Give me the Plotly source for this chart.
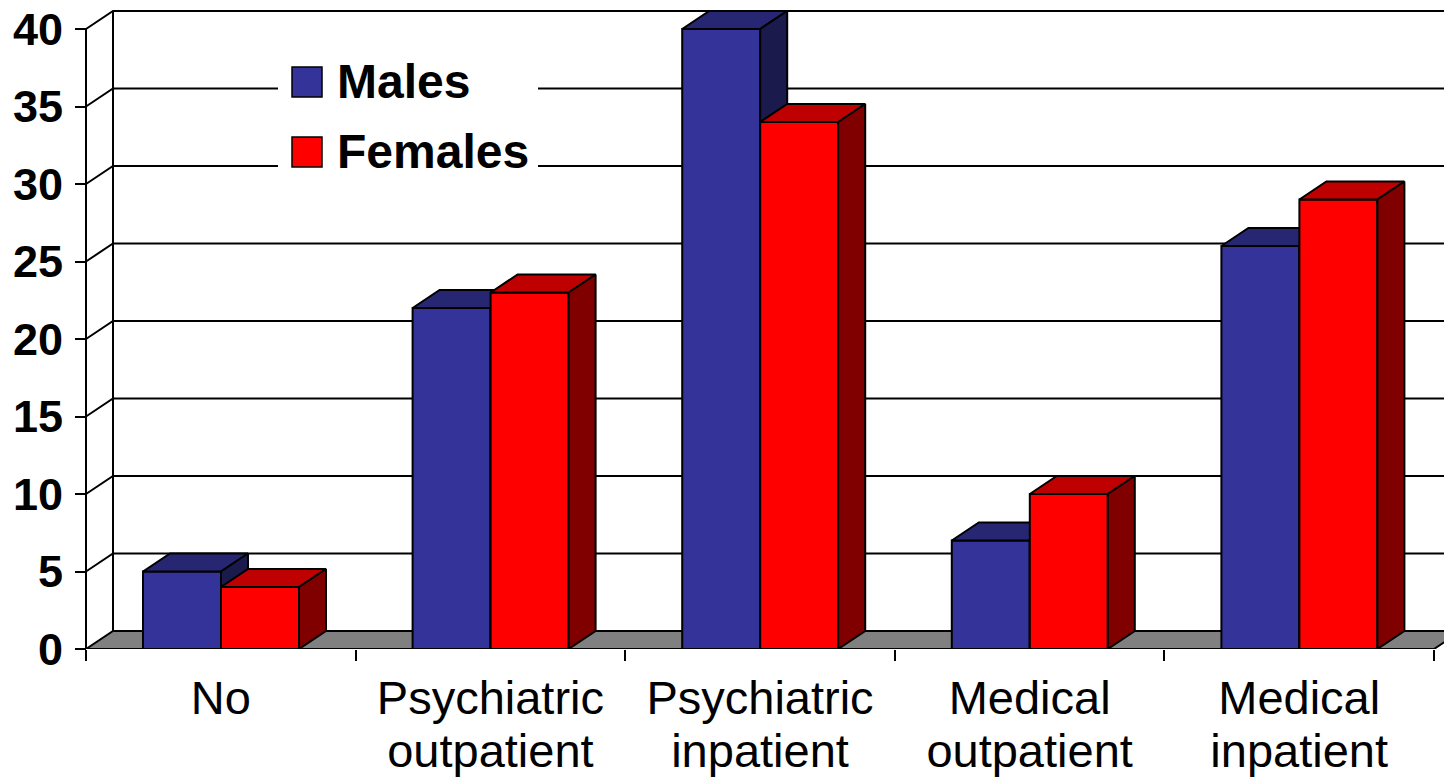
import plotly.graph_objects as go

# ---- data ----
categories = ["No", "Psychiatric<br>outpatient", "Psychiatric<br>inpatient",
              "Medical<br>outpatient", "Medical<br>inpatient"]
males = [5, 22, 40, 7, 26]
females = [4, 23, 34, 10, 29]
y_ticks = [0, 5, 10, 15, 20, 25, 30, 35, 40]

# ---- geometry (pseudo-3D column chart) ----
W, H = 1444, 784
PLOT_H = 649                    # pixel height of plotting area
PX_PER_CAT = 269.6
PX_PER_UNIT = 15.5
AXIS_PX = 86                    # pixel x of front value axis
X_MIN = -AXIS_PX / PX_PER_CAT
X_MAX = (W - AXIS_PX) / PX_PER_CAT
Y_MAX = PLOT_H / PX_PER_UNIT
DX = 27 / PX_PER_CAT            # depth offset in category units
DY = 18 / PX_PER_UNIT           # depth offset in value units
BAR_W = 78 / PX_PER_CAT
BAR_START = 57 / PX_PER_CAT     # first bar offset within a category

MALE = dict(front="#333399", top="#262673", side="#1a1a4d")
FEMALE = dict(front="#FF0000", top="#BF0000", side="#800000")
EDGE = "black"
FONT = "Liberation Sans, Arial"

fig = go.Figure()

def poly_trace(polys, color, width=2):
    xs, ys = [], []
    for px, py in polys:
        xs += list(px) + [px[0], None]
        ys += list(py) + [py[0], None]
    fig.add_trace(go.Scatter(x=xs, y=ys, mode="lines", fill="toself",
                             fillcolor=color, line=dict(color=EDGE, width=width),
                             hoverinfo="skip", showlegend=False))

def line_trace(xs, ys, width=2):
    fig.add_trace(go.Scatter(x=xs, y=ys, mode="lines",
                             line=dict(color=EDGE, width=width),
                             hoverinfo="skip", showlegend=False))

# back-wall and side-wall gridlines
gx, gy = [], []
for v in y_ticks[1:]:
    gx += [0, DX, X_MAX + 1, None]
    gy += [v, v + DY, v + DY, None]
line_trace(gx, gy)
# back wall vertical edge and front axis line
line_trace([DX, DX], [DY, y_ticks[-1] + DY])
line_trace([0, 0], [0, y_ticks[-1]])

# floor
n = len(categories)
poly_trace([([0, n, n + DX, DX], [0, 0, DY, DY])], "#808080")

def bar_faces(vals, offset):
    fronts, tops, sides = [], [], []
    for i, v in enumerate(vals):
        x0 = i + offset
        x1 = x0 + BAR_W
        fronts.append(([x0, x1, x1, x0], [0, 0, v, v]))
        tops.append(([x0, x1, x1 + DX, x0 + DX], [v, v, v + DY, v + DY]))
        sides.append(([x1, x1 + DX, x1 + DX, x1], [0, DY, v + DY, v]))
    return fronts, tops, sides

for vals, off, col in [(males, BAR_START, MALE), (females, BAR_START + BAR_W, FEMALE)]:
    fr, tp, sd = bar_faces(vals, off)
    poly_trace(fr, col["front"])
    poly_trace(tp, col["top"])
    poly_trace(sd, col["side"])

# ---- legend (drawn box with swatches) ----
def px_x(p):
    return p / W
def px_y(p):
    return 1 - p / PLOT_H

shapes = [dict(type="rect", xref="paper", yref="paper", layer="above",
               x0=px_x(278), x1=px_x(538), y0=px_y(190), y1=px_y(45),
               fillcolor="white", line=dict(width=0))]
annotations = []
for name, col, yc in [("Males", MALE["front"], 82), ("Females", FEMALE["front"], 152)]:
    shapes.append(dict(type="rect", xref="paper", yref="paper", layer="above",
                       x0=px_x(292), x1=px_x(322), y0=px_y(yc + 15), y1=px_y(yc - 15),
                       fillcolor=col, line=dict(color=EDGE, width=1.5)))
    annotations.append(dict(text=f"<b>{name}</b>", xref="paper", yref="paper",
                            x=px_x(335), y=px_y(yc), xanchor="left", yanchor="middle",
                            showarrow=False,
                            font=dict(family=FONT, size=48, color="black")))

# category labels: two lines, set on two label axes for tighter line spacing
line1 = [c.split("<br>")[0] for c in categories]
line2 = [c.split("<br>")[1] if "<br>" in c else "" for c in categories]
centers = [i + 0.5 for i in range(n)]
label_font = dict(family=FONT, size=47, color="black")

fig.update_layout(
    width=W, height=H,
    margin=dict(l=0, r=0, t=0, b=H - PLOT_H, pad=0),
    paper_bgcolor="white", plot_bgcolor="white",
    showlegend=False,
    shapes=shapes, annotations=annotations,
    xaxis=dict(range=[X_MIN, X_MAX], domain=[0, 1],
               tickvals=centers, ticktext=line1,
               ticks="", showgrid=False, zeroline=False, showline=False,
               tickfont=label_font, ticklabelstandoff=17),
    xaxis2=dict(range=[X_MIN, X_MAX], overlaying="x", side="bottom", anchor="y",
                tickvals=list(range(n + 1)), ticks="outside", ticklen=11,
                tickwidth=2, tickcolor="black", showticklabels=False,
                showgrid=False, zeroline=False, showline=False),
    xaxis3=dict(range=[X_MIN, X_MAX], overlaying="x", side="bottom", anchor="y",
                tickvals=centers, ticktext=line2, ticks="",
                showgrid=False, zeroline=False, showline=False,
                tickfont=label_font, ticklabelstandoff=70),
    yaxis=dict(range=[0, Y_MAX], anchor="free", position=AXIS_PX / W,
               tickvals=y_ticks, ticktext=[f"<b>{t}</b>" for t in y_ticks],
               ticks="outside", ticklen=11, tickwidth=2, tickcolor="black",
               showgrid=False, zeroline=False, showline=False,
               tickfont=dict(family=FONT, size=45, color="black"),
               ticklabelstandoff=3),
)
# invisible traces so the overlay axes are rendered
for ax in ["x2", "x3"]:
    fig.add_trace(go.Scatter(x=[0], y=[0], xaxis=ax, mode="markers",
                             marker=dict(opacity=0), hoverinfo="skip", showlegend=False))

fig.write_html("out.html")
